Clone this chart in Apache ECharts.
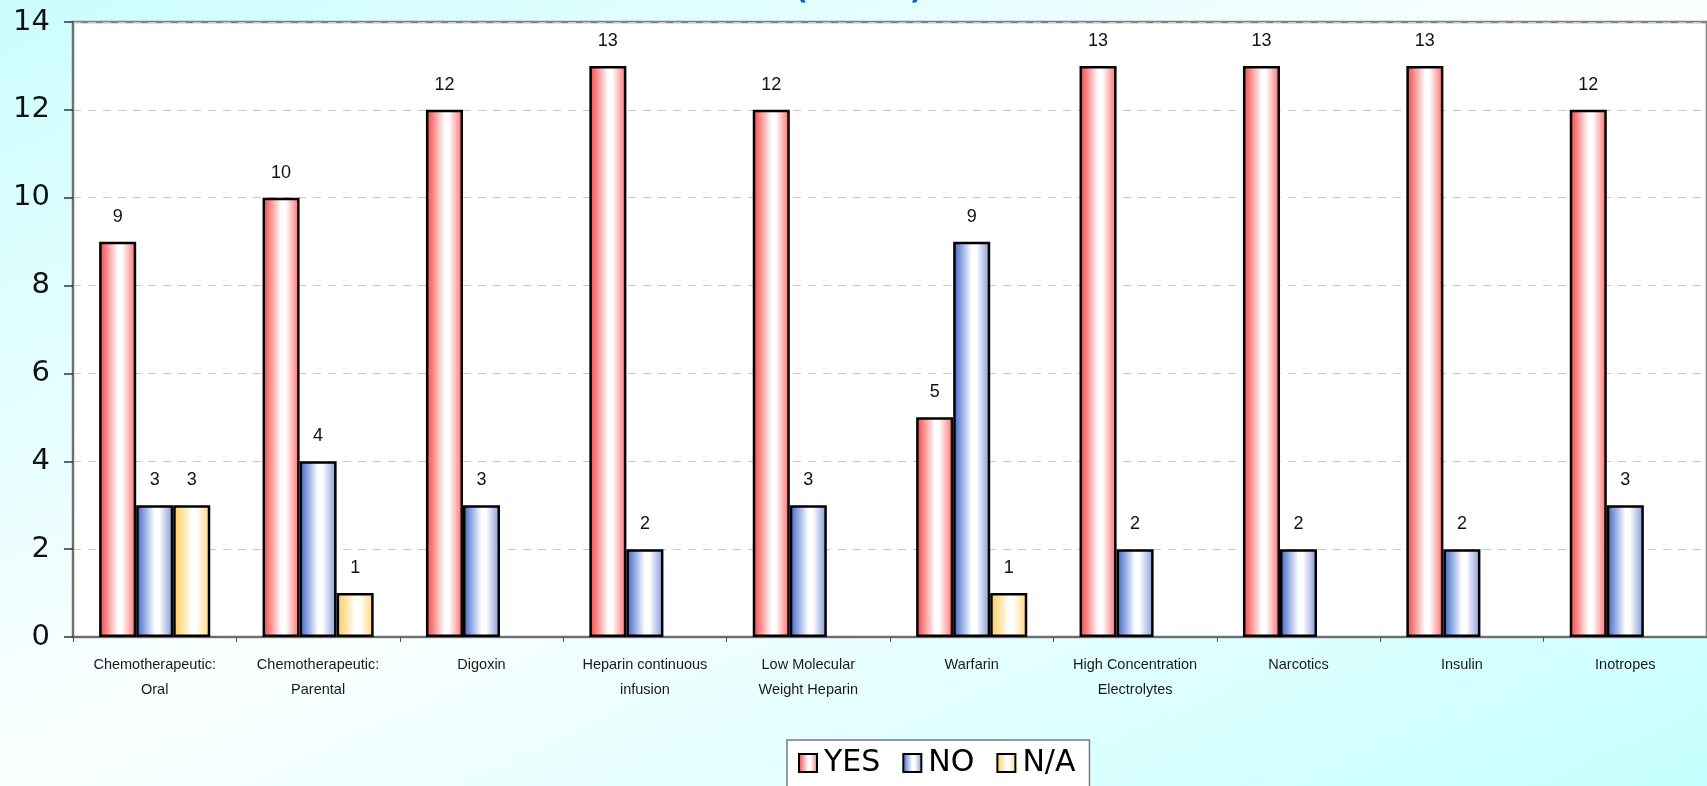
<!DOCTYPE html>
<html>
<head>
<meta charset="utf-8">
<title>High alert medications</title>
<script src="https://cdn.jsdelivr.net/npm/echarts@6/dist/echarts.min.js"></script>
<style>
  html, body { margin: 0; padding: 0; }
  #chart { width: 1707px; height: 786px; }
</style>
</head>
<body>
<div id="chart"></div>
<script>
// Medication groups on the category axis
const categories = [
  'Chemotherapeutic:\nOral',
  'Chemotherapeutic:\nParental',
  'Digoxin',
  'Heparin continuous\ninfusion',
  'Low Molecular\nWeight Heparin',
  'Warfarin',
  'High Concentration\nElectrolytes',
  'Narcotics',
  'Insulin',
  'Inotropes'
];

// Number of responses per answer (null = no responses)
const yesValues = [9, 10, 12, 13, 12, 5, 13, 13, 13, 12];
const noValues  = [3, 4, 3, 2, 3, 9, 2, 2, 2, 3];
const naValues  = [3, 1, null, null, null, 1, null, null, null, null];

const seriesNames = ['YES', 'NO', 'N/A'];
const titleText = '(n = 15)';

const W = 1707, H = 786;

// Horizontal "cylinder" shading for each answer colour
function shade(edgeL, edgeR) {
  return new echarts.graphic.LinearGradient(0, 0, 1, 0, [
    { offset: 0, color: edgeL },
    { offset: 0.5, color: '#ffffff' },
    { offset: 0.62, color: '#ffffff' },
    { offset: 1, color: edgeR }
  ]);
}

const fills = [
  shade('#ff3a3a', '#ff6a6a'),
  shade('#3560c6', '#7f97da'),
  shade('#ffc94a', '#ffd470')
];

const chart = echarts.init(document.getElementById('chart'), null, { renderer: 'canvas' });

function barSeries(name, data, fill) {
  return {
    name: name,
    type: 'bar',
    data: data,
    barGap: '0%',
    barCategoryGap: '32%',
    itemStyle: { color: fill, borderColor: '#000000', borderWidth: 2.5 },
    label: {
      show: true,
      position: 'top',
      distance: 16,
      color: '#111111',
      fontFamily: 'Liberation Sans',
      fontSize: 18
    },
    emphasis: { disabled: true }
  };
}

chart.setOption({
  animation: false,
  graphic: [
    {
      // page background: cyan corners fading to white along the anti-diagonal
      type: 'rect',
      z: -10,
      silent: true,
      shape: { x: 0, y: 0, width: W, height: H },
      style: {
        fill: new echarts.graphic.LinearGradient(0, 0, 597, 1297, [
          { offset: 0, color: '#ccfdff' },
          { offset: 0.5, color: '#fbffff' },
          { offset: 1, color: '#c6ffff' }
        ], true)
      }
    },
    {
      type: 'text',
      left: 795,
      top: -22.5,
      z: 5,
      style: {
        text: titleText,
        fill: '#0a5ccc',
        font: 'bold 28px "DejaVu Sans"'
      }
    }
  ],
  grid: {
    left: 73,
    top: 22,
    right: -3,
    bottom: 149,
    show: true,
    backgroundColor: '#ffffff',
    borderColor: '#808080',
    borderWidth: 2.5
  },
  legend: {
    data: seriesNames,
    left: 787,
    top: 740,
    icon: 'rect',
    itemWidth: 18,
    itemHeight: 18,
    itemGap: 22,
    padding: [8, 14, 30, 11],
    backgroundColor: '#ffffff',
    borderColor: '#7a7a7a',
    borderWidth: 1.5,
    itemStyle: { borderWidth: 2, borderColor: '#000000' },
    textStyle: {
      fontFamily: 'DejaVu Sans',
      fontSize: 30,
      color: '#000000',
      padding: [0, 0, 0, 2]
    },
    selectedMode: false
  },
  xAxis: {
    type: 'category',
    data: categories,
    axisLine: { show: true, lineStyle: { color: '#6e6e6e', width: 2 } },
    axisTick: { show: true, inside: false, length: 5, lineStyle: { color: '#555555' } },
    axisLabel: {
      interval: 0,
      margin: 15,
      fontFamily: 'Liberation Sans',
      fontSize: 14.5,
      lineHeight: 25,
      color: '#1a1a1a'
    },
    splitLine: { show: false }
  },
  yAxis: {
    type: 'value',
    min: 0,
    max: 14,
    interval: 2,
    axisLine: { show: true, lineStyle: { color: '#6e6e6e', width: 2 } },
    axisTick: { show: true, inside: false, length: 9, lineStyle: { color: '#333333', width: 1.5 } },
    axisLabel: {
      margin: 23,
      fontFamily: 'DejaVu Sans',
      fontSize: 29,
      color: '#111111'
    },
    splitLine: { show: true, lineStyle: { color: '#c8c8c8', type: [8, 7], width: 1 } }
  },
  series: [
    barSeries(seriesNames[0], yesValues, fills[0]),
    barSeries(seriesNames[1], noValues, fills[1]),
    barSeries(seriesNames[2], naValues, fills[2])
  ]
});
</script>
</body>
</html>
